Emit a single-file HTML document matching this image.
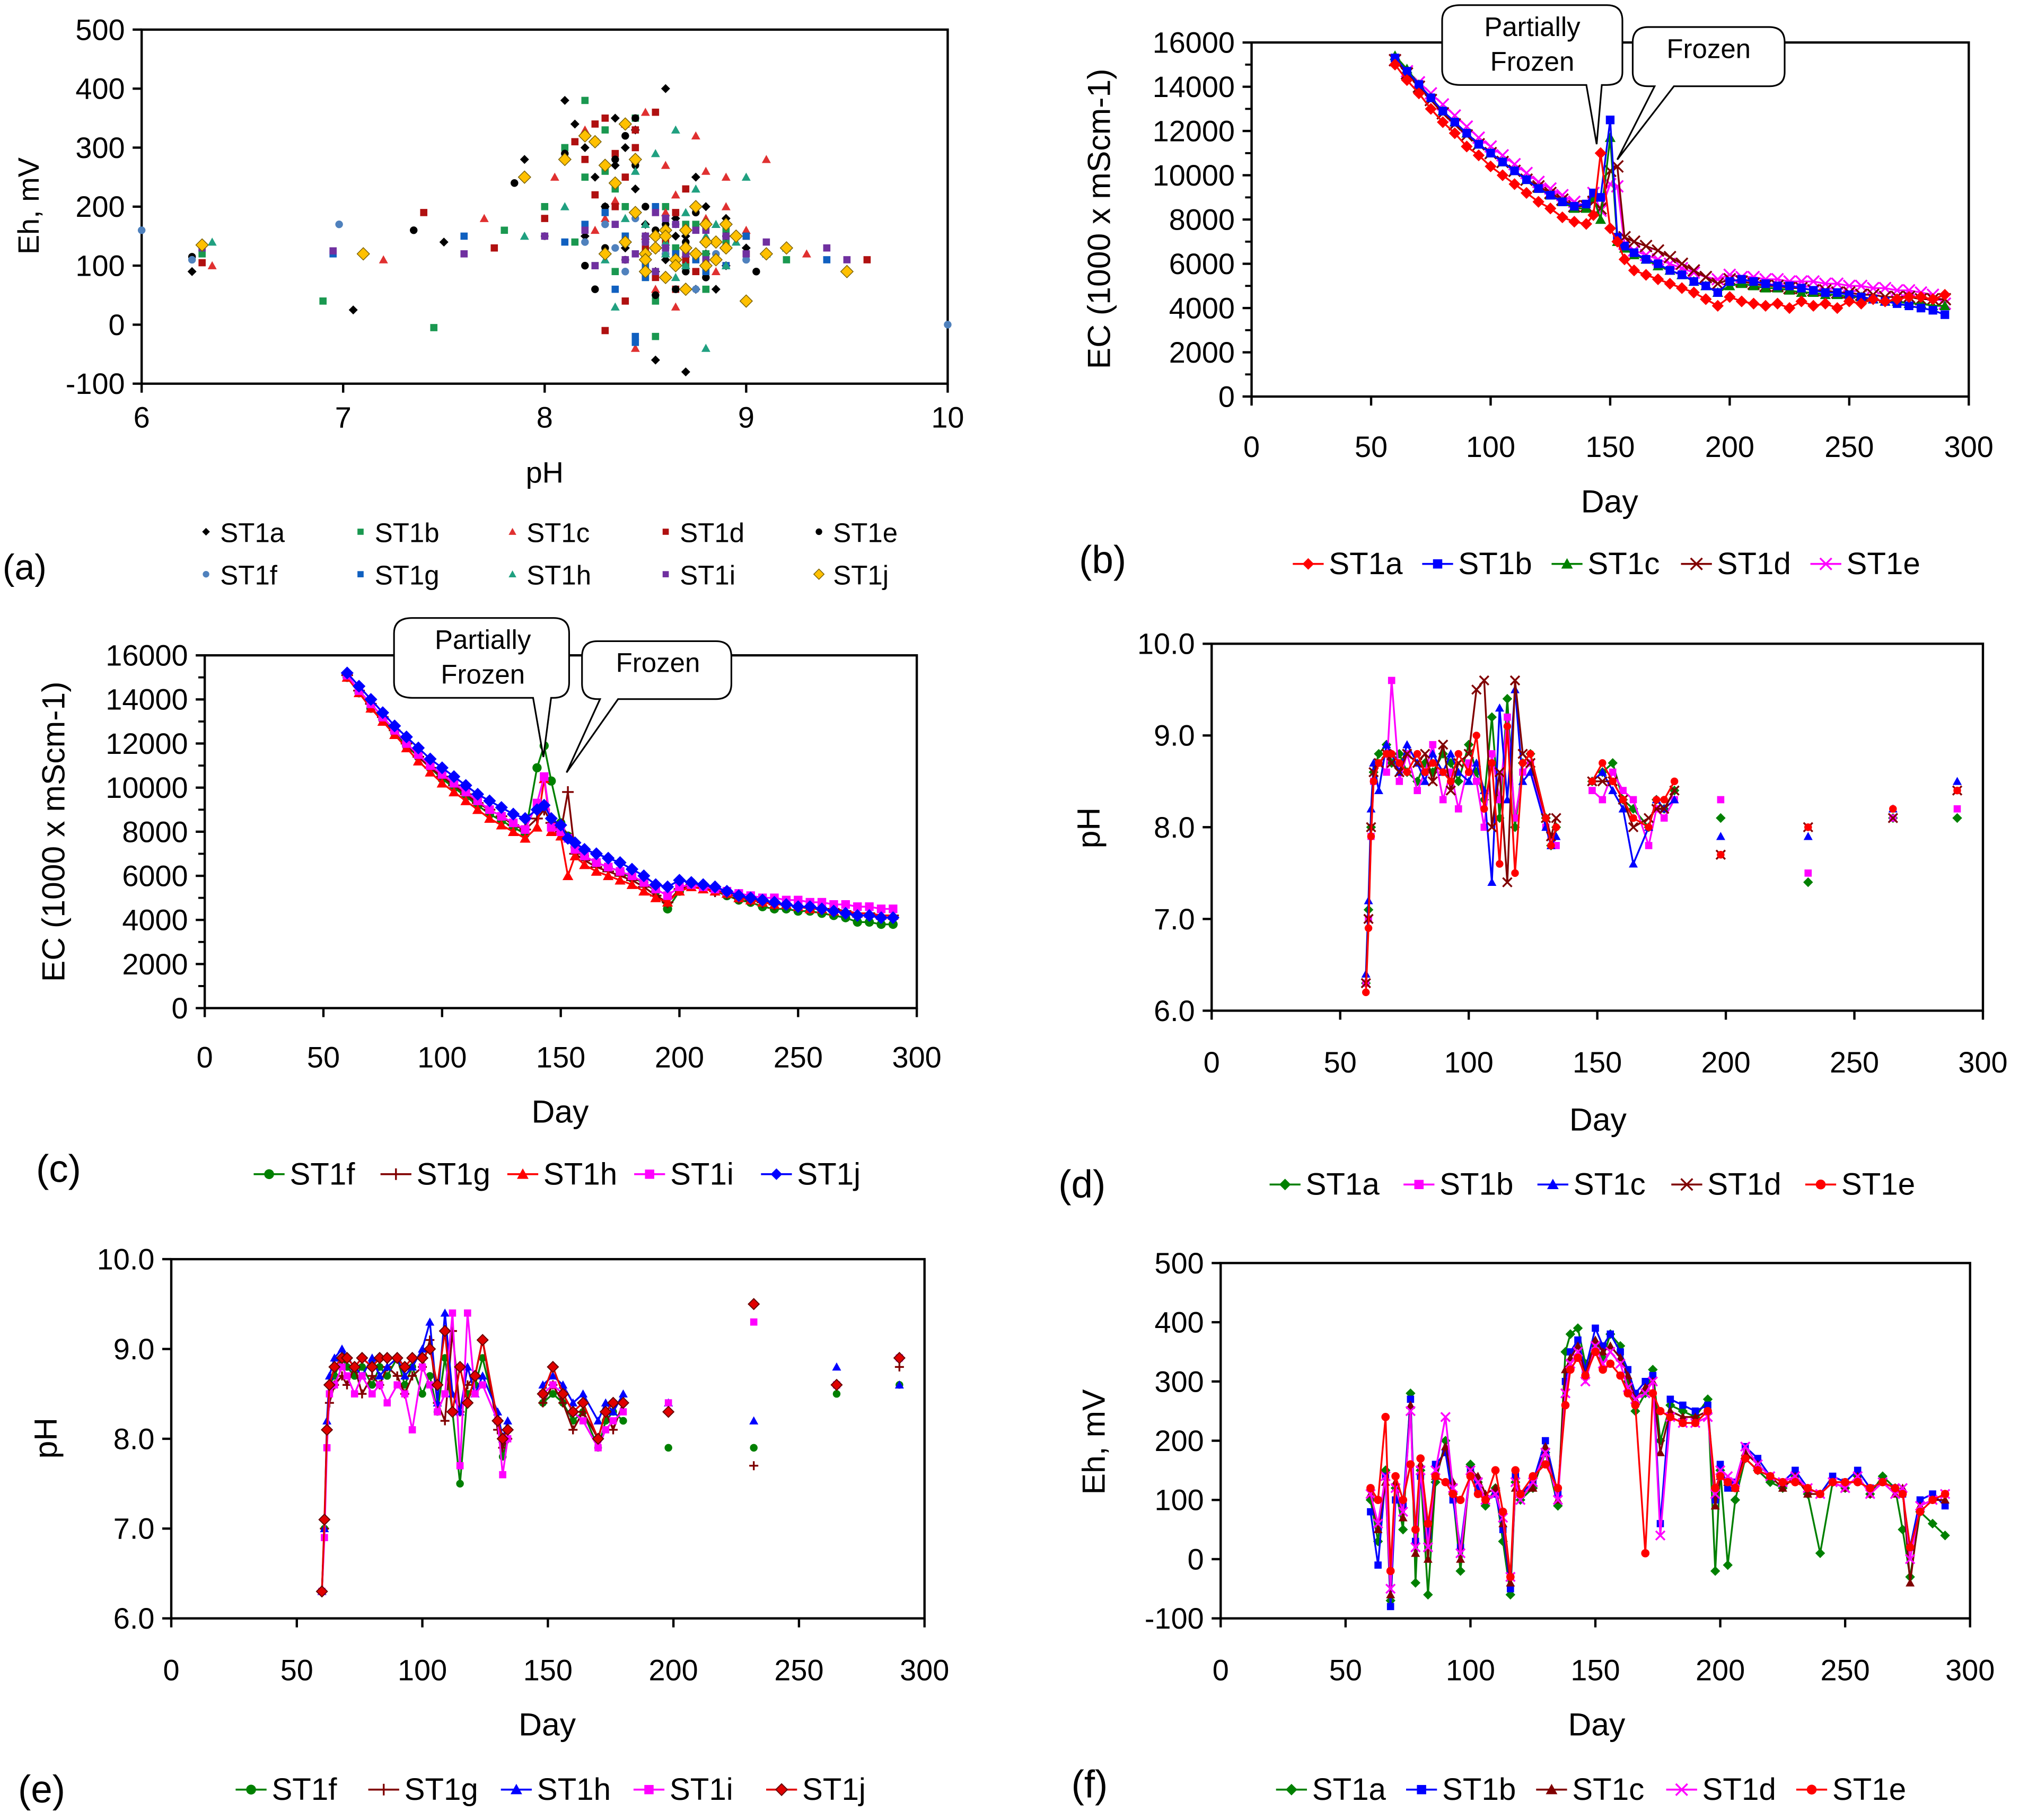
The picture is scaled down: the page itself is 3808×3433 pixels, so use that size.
<!DOCTYPE html>
<html><head><meta charset="utf-8"><style>
html,body{margin:0;padding:0;background:#fff}
svg{display:block}
text{font-family:"Liberation Sans",Arial,sans-serif;fill:#000}
</style></head><body>
<svg id="fig" width="3808" height="3433" viewBox="0 0 1568 1413.6" xmlns="http://www.w3.org/2000/svg">
<rect width="1568" height="1413.6" fill="#fff"/>
</svg>
<script>
// ---------- DATA ----------
const ecDays=[60,65,70,75,80,85,90,95,100,105,110,115,120,125,130,135,140,143,146,150,153,156,160,165,170,175,180,185,190,195,200,205,210,215,220,225,230,235,240,245,250,255,260,265,270,275,280,285,290];
const ecB_ST1a=[15000,14300,13700,13000,12400,11900,11300,10900,10400,10000,9600,9200,8800,8500,8100,7900,7800,8200,11000,7600,7000,6200,5700,5500,5300,5100,4900,4700,4400,4100,4500,4300,4200,4100,4200,4000,4300,4100,4200,4000,4300,4200,4400,4300,4400,4500,4500,4400,4600];
const ecB_ST1b=[15300,14700,14100,13500,12900,12400,11900,11400,11000,10600,10200,9800,9400,9100,8800,8600,8700,9200,9000,12500,7200,6800,6500,6200,6000,5700,5500,5200,5000,4700,5200,5300,5200,5100,5000,5000,4900,4800,4700,4700,4600,4500,4400,4300,4200,4100,4000,3900,3700];
const ecB_ST1c=[15400,14800,14100,13500,12900,12400,11900,11400,11000,10600,10200,9800,9400,9100,8800,8500,8500,9000,8000,11700,7000,6700,6400,6200,5900,5700,5500,5200,5000,4700,5000,5100,5000,4900,4900,4800,4700,4700,4600,4600,4500,4500,4400,4300,4300,4200,4200,4100,4100];
const ecB_ST1d=[15200,14600,14000,13400,12800,12300,11800,11400,11000,10600,10200,9800,9500,9200,8900,8600,8600,8800,8500,10200,10400,7200,7000,6800,6600,6300,6000,5700,5400,5100,5300,5200,5100,5000,5000,4900,4900,4800,4800,4700,4700,4600,4600,4500,4500,4500,4400,4400,4400];
const ecB_ST1e=[15200,14700,14200,13700,13200,12700,12200,11700,11300,10900,10500,10100,9700,9400,9100,8800,8600,9200,8400,9600,9500,6900,6600,6400,6200,6000,5800,5600,5400,5300,5500,5400,5400,5300,5300,5200,5200,5200,5100,5100,5000,5000,4900,4900,4800,4800,4700,4600,4200];
const ecC_ST1f=[15000,14300,13600,13100,12500,11900,11400,10900,10400,10000,9600,9200,8800,8500,8200,7900,10900,11900,10300,8400,7800,7300,6900,6600,6400,6200,5900,5700,5300,4500,5300,5700,5500,5300,5100,4900,4800,4600,4500,4500,4400,4400,4300,4200,4100,3900,3900,3800,3800];
const ecC_ST1g=[15100,14400,13800,13200,12600,12000,11400,10900,10500,10100,9700,9300,9000,8700,8300,8100,8600,9000,8400,8000,9800,7000,6700,6400,6200,6000,5800,5500,5100,4800,5400,5600,5500,5300,5200,5000,4900,4800,4700,4700,4600,4600,4500,4500,4400,4300,4300,4200,4200];
const ecC_ST1h=[15000,14300,13600,13000,12400,11800,11200,10700,10200,9800,9400,9000,8600,8300,8000,7700,8200,10400,8000,7800,6000,6900,6500,6200,6000,5800,5600,5300,5000,4800,5300,5500,5400,5300,5200,5000,4900,4800,4700,4700,4600,4500,4500,4400,4400,4300,4300,4200,4200];
const ecC_ST1i=[15100,14400,13800,13200,12600,12000,11500,11000,10600,10200,9800,9400,9000,8700,8400,8100,9300,10500,8200,8000,7700,7200,6900,6600,6400,6200,6000,5700,5400,5100,5500,5600,5500,5400,5300,5200,5100,5000,5000,4900,4900,4800,4800,4700,4700,4600,4600,4500,4500];
const ecC_ST1j=[15200,14600,14000,13400,12800,12300,11800,11300,10900,10500,10100,9700,9400,9100,8800,8600,9000,9200,8600,8300,7700,7500,7200,7000,6800,6600,6300,6000,5600,5500,5800,5700,5600,5500,5300,5100,5000,4900,4800,4700,4600,4600,4500,4400,4300,4200,4200,4100,4100];

const phDays=[60,61,62,63,65,68,70,73,76,80,83,86,90,93,96,100,103,106,109,112,115,118,121,124,130,132,134,148,152,156,160,164,170,173,176,180,198,232,265,290];
const phD_ST1a=[6.3,7.1,8.0,8.6,8.8,8.9,8.7,8.8,8.6,8.5,8.7,8.6,8.8,8.7,8.5,8.9,8.6,8.3,9.2,8.1,9.4,8.0,8.7,8.8,8.1,7.8,8.0,8.5,8.6,8.7,8.3,8.2,8.0,8.3,8.2,8.4,8.1,7.4,8.1,8.1];
const phD_ST1b=[6.3,7.0,7.9,8.5,8.7,8.6,9.6,8.5,8.8,8.4,8.6,8.9,8.3,8.6,8.2,8.7,8.5,8.0,8.8,8.3,9.2,8.1,8.6,8.7,8.0,7.9,7.8,8.4,8.3,8.6,8.4,8.3,7.8,8.2,8.1,8.3,8.3,7.5,8.1,8.2];
const phD_ST1c=[6.4,7.2,8.2,8.7,8.4,8.9,8.8,8.6,8.9,8.7,8.5,8.8,8.6,8.8,8.6,8.5,8.7,8.4,7.4,9.3,8.3,9.5,8.5,8.6,8.0,7.8,7.9,8.5,8.6,8.4,8.2,7.6,8.0,8.3,8.2,8.3,7.9,7.9,8.2,8.5];
const phD_ST1d=[6.3,7.0,8.0,8.6,8.7,8.8,8.7,8.6,8.8,8.7,8.8,8.5,8.9,8.4,8.7,8.8,9.5,9.6,8.0,8.6,7.4,9.6,8.8,8.7,8.1,7.9,8.1,8.5,8.5,8.5,8.3,8.0,8.1,8.2,8.2,8.4,7.7,8.0,8.1,8.4];
const phD_ST1e=[6.2,6.9,7.9,8.5,8.7,8.8,8.8,8.7,8.6,8.8,8.6,8.7,8.6,8.5,8.8,8.6,9.0,8.2,8.7,7.6,9.1,7.5,8.7,8.8,8.1,7.8,8.0,8.5,8.7,8.5,8.3,8.1,8.0,8.3,8.3,8.5,7.7,8.0,8.2,8.4];
const phE_ST1f=[6.3,7.0,8.1,8.6,8.7,8.9,8.8,8.7,8.8,8.6,8.8,8.7,8.9,8.6,8.8,8.5,8.7,8.3,8.9,8.3,7.5,8.5,8.6,8.9,8.2,7.8,8.0,8.4,8.5,8.4,8.2,8.3,7.9,8.2,8.3,8.2,7.9,7.9,8.5,8.6];
const phE_ST1g=[6.3,7.0,8.1,8.4,8.6,8.7,8.6,8.8,8.5,8.7,8.6,8.8,8.7,8.5,8.7,8.8,9.1,8.4,8.2,9.2,8.3,8.6,8.7,9.1,8.1,7.9,8.0,8.4,8.6,8.4,8.1,8.3,8.0,8.3,8.1,8.4,8.3,7.7,8.6,8.8];
const phE_ST1h=[6.3,7.0,8.2,8.7,8.9,9.0,8.9,8.8,8.7,8.9,8.7,8.8,8.9,8.7,8.8,9.0,9.3,8.4,9.4,8.5,8.3,8.8,8.5,8.7,8.3,8.0,8.2,8.6,8.7,8.6,8.4,8.5,8.2,8.4,8.3,8.5,8.4,8.2,8.8,8.6];
const phE_ST1i=[6.3,6.9,7.9,8.5,8.6,8.8,8.7,8.5,8.7,8.5,8.6,8.4,8.6,8.5,8.1,8.8,8.6,8.3,8.5,9.4,7.7,9.4,8.5,8.6,8.2,7.6,8.0,8.5,8.6,8.5,8.3,8.2,7.9,8.1,8.2,8.3,8.4,9.3,8.6,8.9];
const phE_ST1j=[6.3,7.1,8.1,8.6,8.8,8.9,8.9,8.8,8.9,8.8,8.9,8.9,8.9,8.8,8.9,8.9,9.0,8.6,9.2,8.3,8.8,8.4,8.7,9.1,8.2,8.0,8.1,8.5,8.8,8.5,8.3,8.4,8.0,8.3,8.4,8.4,8.3,9.5,8.6,8.9];

const ehDays=[60,63,66,68,70,73,76,78,80,83,86,90,93,96,100,103,106,110,113,116,118,120,125,130,135,138,140,143,146,150,153,156,160,163,166,170,173,176,180,185,190,195,198,200,203,206,210,215,220,225,230,235,240,245,250,255,260,265,270,273,276,280,285,290];
const ehF_ST1a=[100,30,150,-70,120,50,280,-40,150,-60,130,200,110,-20,160,130,90,120,30,-60,130,100,120,180,90,350,380,390,330,360,340,380,360,300,250,280,320,200,260,250,240,270,-20,150,-10,100,170,150,130,120,140,110,10,130,120,140,110,140,120,50,-30,80,60,40,140];
const ehF_ST1b=[80,-10,140,-80,100,90,270,30,140,40,160,180,100,20,150,120,100,110,50,-50,140,110,130,200,110,300,350,370,320,390,360,380,350,320,280,300,310,60,270,260,250,260,100,160,120,130,190,170,140,130,150,120,110,140,130,150,120,130,120,110,20,100,110,90,180];
const ehF_ST1c=[110,50,130,-60,130,70,260,10,160,0,140,190,130,0,150,140,110,120,60,-40,120,110,120,190,100,320,340,360,310,370,350,360,340,310,270,290,300,180,250,240,240,250,90,140,130,120,180,160,140,120,140,110,110,130,120,140,110,130,110,120,-40,90,100,100,150];
const ehF_ST1d=[110,60,140,-50,120,80,250,20,150,20,150,240,120,10,150,130,100,110,70,-30,130,100,130,180,100,280,330,350,300,360,330,350,330,290,270,280,300,40,240,230,230,240,110,150,140,130,190,160,140,130,140,120,110,130,120,140,110,130,110,120,0,90,100,110,130];
const ehF_ST1e=[120,100,240,-20,140,100,160,50,170,60,140,130,110,100,140,110,100,150,80,-30,150,110,140,160,120,260,320,340,310,350,320,330,310,280,260,10,280,250,240,230,230,250,120,140,130,120,170,150,140,130,130,120,110,130,130,130,120,130,120,110,20,80,100,110,120];

const scA_ST1a_pH=[6.25,7.05,7.5,7.9,8.1,8.2,8.3,8.35,8.4,8.5,8.55,8.6,8.65,8.7,8.75,8.8,8.85,8.9,9.0,8.45,8.15,8.25,8.4,8.5,8.6,8.7,8.8,8.3,8.45,8.55,8.65,8.75,8.2,8.35,8.9];
const scA_ST1a_Eh=[90,25,140,280,380,300,200,350,130,90,-60,400,150,-80,250,120,60,180,130,330,340,250,300,170,110,150,200,120,230,90,180,60,150,270,100];
const scA_ST1b_pH=[6.3,6.9,7.45,7.8,8.0,8.1,8.2,8.25,8.3,8.4,8.45,8.5,8.55,8.6,8.65,8.7,8.8,8.9,9.2,8.35,8.2,8.3,8.4,8.5,8.6,8.7,8.75,8.45,8.55,8.65,8.35,8.25,8.8,8.9,8.15];
const scA_ST1b_Eh=[120,40,-5,160,200,300,380,100,260,150,350,80,-20,200,120,170,60,140,110,230,250,330,200,120,150,100,170,280,40,130,90,310,120,160,140];
const scA_ST1c_pH=[6.35,7.2,7.7,8.05,8.2,8.3,8.4,8.5,8.55,8.6,8.7,8.75,8.8,8.85,8.9,9.0,9.1,9.3,8.45,8.65,8.35,8.5,8.6,8.7,8.45,8.8,8.25,8.55,8.65,8.9];
const scA_ST1c_Eh=[100,110,180,250,330,180,340,150,60,270,120,320,180,90,250,160,280,120,-40,30,210,360,190,100,280,260,160,130,220,200];
const scA_ST1d_pH=[6.3,7.4,7.75,8.0,8.15,8.25,8.35,8.45,8.5,8.55,8.6,8.7,8.75,8.8,8.9,9.0,9.6,8.4,8.65,8.3,8.2,8.3,8.4,8.5,8.6,8.65,8.7,8.8,8.45,8.55,8.35,8.25,8.75,8.9,9.0];
const scA_ST1d_Eh=[105,190,130,180,310,220,290,330,110,360,140,230,90,170,130,120,110,40,60,-10,280,350,250,130,160,190,110,140,300,80,200,340,120,100,150];
const scA_ST1e_pH=[6.25,7.35,7.85,8.0,8.1,8.2,8.3,8.4,8.5,8.6,8.65,8.7,8.8,8.9,9.05,9.2,8.45,8.55,8.75,8.25,8.3,8.5,8.6,8.7,8.4,8.8,8.55,8.65,8.45,8.35];
const scA_ST1e_Eh=[115,160,240,150,290,100,130,320,200,170,110,140,80,150,90,130,270,50,190,60,200,150,120,90,110,140,160,60,350,280];
const scA_ST1f_pH=[6.0,6.25,6.98,8.3,8.5,8.6,8.7,8.8,8.9,9.0,8.4,8.55,8.65,8.75,8.2,8.45,8.35,8.85,8.6,10.0];
const scA_ST1f_Eh=[160,110,170,170,140,120,160,100,130,110,90,150,170,60,140,180,130,120,130,0];
const scA_ST1g_pH=[6.3,6.95,7.6,8.1,8.2,8.3,8.4,8.5,8.55,8.6,8.65,8.7,8.75,8.8,8.9,9.0,9.4,8.45,8.35,8.25,8.4,8.5,8.6,8.7,8.8,8.45,8.55,8.65];
const scA_ST1g_Eh=[130,120,150,140,170,190,150,100,130,180,120,160,110,140,100,150,110,-20,60,310,140,80,160,120,90,-30,200,100];
const scA_ST1h_pH=[6.35,7.9,8.1,8.3,8.4,8.5,8.6,8.7,8.8,8.9,9.0,9.2,8.45,8.55,8.65,8.75,8.85,8.95,9.1,8.35,8.5,8.6,8.7,8.8,8.4,8.65];
const scA_ST1h_Eh=[140,150,200,110,140,170,120,190,150,100,250,130,260,290,80,230,170,140,120,30,120,140,100,-40,180,330];
const scA_ST1i_pH=[6.3,6.95,7.6,8.0,8.2,8.35,8.45,8.5,8.6,8.7,8.75,8.8,8.9,9.0,9.1,9.4,9.5,8.55,8.65,8.25,8.4,8.5,8.6,8.7,8.8,8.55];
const scA_ST1i_Eh=[130,125,120,150,160,170,120,140,180,130,160,110,150,120,140,130,110,90,170,100,110,150,130,120,160,190];
const scA_ST1j_pH=[6.3,7.1,7.9,8.1,8.2,8.3,8.4,8.5,8.55,8.6,8.65,8.7,8.75,8.8,8.85,8.9,9.0,9.2,9.5,8.45,8.3,8.4,8.5,8.55,8.6,8.65,8.7,8.75,8.8,8.85,8.9,8.95,8.45,8.35,8.6,8.7,8.8,8.5,8.25,9.1];
const scA_ST1j_Eh=[135,120,250,280,320,270,340,120,150,160,110,130,200,100,140,170,40,130,90,280,120,140,110,130,150,100,160,120,140,110,130,150,190,240,80,60,170,90,310,120];

const ticksA_x=[6,7,8,9,10], ticksA_y=[-100,0,100,200,300,400,500];
const ticksEC_y=[0,2000,4000,6000,8000,10000,12000,14000,16000];
const ticksDay=[0,50,100,150,200,250,300];
const ticksPH=[6,7,8,9,10];
const ticksEh=[-100,0,100,200,300,400,500];

// ---------- HELPERS ----------
const NS="http://www.w3.org/2000/svg";
const svg=document.getElementById('fig');
function el(tag,attrs,parent){const e=document.createElementNS(NS,tag);for(const k in attrs)e.setAttribute(k,attrs[k]);(parent||svg).appendChild(e);return e;}
function lin(d0,d1,p0,p1){return v=>p0+(v-d0)*(p1-p0)/(d1-d0);}
function marker(g,type,x,y,s,col){
  let m;
  if(type==='diamond')m=el('polygon',{points:`${x},${y-s} ${x+s},${y} ${x},${y+s} ${x-s},${y}`,fill:col},g);
  else if(type==='diamondB')m=el('polygon',{points:`${x},${y-s} ${x+s},${y} ${x},${y+s} ${x-s},${y}`,fill:col,stroke:'#600',"stroke-width":0.8},g);
  else if(type==='square')m=el('rect',{x:x-s*0.8,y:y-s*0.8,width:s*1.6,height:s*1.6,fill:col},g);
  else if(type==='triangle')m=el('polygon',{points:`${x},${y-s} ${x+s},${y+s*0.8} ${x-s},${y+s*0.8}`,fill:col},g);
  else if(type==='circle')m=el('circle',{cx:x,cy:y,r:s*0.85,fill:col},g);
  else if(type==='x')m=el('path',{d:`M${x-s},${y-s}L${x+s},${y+s}M${x-s},${y+s}L${x+s},${y-s}`,stroke:col,"stroke-width":1.4},g);
  else if(type==='plus')m=el('path',{d:`M${x-s},${y}L${x+s},${y}M${x},${y-s}L${x},${y+s}`,stroke:col,"stroke-width":1.4},g);
  else if(type==='diamondG')m=el('polygon',{points:`${x},${y-s} ${x+s},${y} ${x},${y+s} ${x-s},${y}`,fill:col,stroke:'#7a6000',"stroke-width":0.6},g);
  
  
  return m;
}
function text(t,x,y,size,anchor,parent,rot){
  const e=el('text',{x:x,y:y,"font-size":size,"text-anchor":anchor||'middle'},parent);
  if(rot)e.setAttribute('transform',`rotate(-90 ${x} ${y})`);
  e.textContent=t;return e;
}
function axes(name,x0,x1,y0,y1,xs,ys,xt,yt,fmtY,minorY,xLabY){
  const g=el('g',{});
  
  
  const fr=el('rect',{x:x0,y:y0,width:x1-x0,height:y1-y0,fill:'none',stroke:'#000',"stroke-width":1.8},g);
  
  
  xt.forEach(v=>{const X=xs(v);el('line',{x1:X,y1:y1,x2:X,y2:y1+7,stroke:'#000',"stroke-width":1.8},g);
    const t=text(String(v),X,xLabY,23,'middle',g);
    
    });
  yt.forEach(v=>{const Y=ys(v);el('line',{x1:x0-7,y1:Y,x2:x0,y2:Y,stroke:'#000',"stroke-width":1.8},g);
    const t=text(fmtY(v),x0-13,Y+8,23,'end',g);
    
    });
  if(minorY)minorY.forEach(v=>{const Y=ys(v);el('line',{x1:x0-5,y1:Y,x2:x0,y2:Y,stroke:'#000',"stroke-width":1.6},g);});
  return g;
}
function series(name,days,vals,xs,ys,col,type,s,gapMax){
  const g=el('g',{});
  
  
  let d='';let prev=null;
  days.forEach((dd,i)=>{const X=xs(dd),Y=ys(vals[i]);
    if(prev===null||dd-prev>gapMax)d+=`M${X},${Y}`;else d+=`L${X},${Y}`;prev=dd;});
  const p=el('path',{d:d,fill:'none',stroke:col,"stroke-width":1.4},g);
  
  
  days.forEach((dd,i)=>marker(g,type,xs(dd),ys(vals[i]),s,col));
}
function legendLine(name,items,x,y,spacing){
  const g=el('g',{});
  
  
  items.forEach((it,i)=>{
    const X=x+i*spacing;
    const e=el('g',{},g);
    
    
    el('line',{x1:X,y1:y-8,x2:X+24,y2:y-8,stroke:it[1],"stroke-width":1.5},e);
    marker(e,it[2],X+12,y-8,4.5,it[1]);
    text(it[0],X+28,y,24,'start',e);
  });
}
const GREEN='#008000',BLUE='#0000ff',RED='#ff0000',MAG='#ff00ff',BROWN='#800000';

// ---------- PANEL A ----------
{
  const xs=lin(6,10,110,736), ys=lin(-100,500,298,23);
  axes('panel-a',110,736,23,298,xs,ys,ticksA_x,ticksA_y,v=>String(v),null,332);
  const defs=[['ST1a',scA_ST1a_pH,scA_ST1a_Eh,'#000','diamond'],['ST1b',scA_ST1b_pH,scA_ST1b_Eh,'#1a9850','square'],
   ['ST1c',scA_ST1c_pH,scA_ST1c_Eh,'#e03030','triangle'],['ST1d',scA_ST1d_pH,scA_ST1d_Eh,'#b01010','square'],
   ['ST1e',scA_ST1e_pH,scA_ST1e_Eh,'#000','circle'],['ST1f',scA_ST1f_pH,scA_ST1f_Eh,'#4f81bd','circle'],
   ['ST1g',scA_ST1g_pH,scA_ST1g_Eh,'#1060c0','square'],['ST1h',scA_ST1h_pH,scA_ST1h_Eh,'#20a080','triangle'],
   ['ST1i',scA_ST1i_pH,scA_ST1i_Eh,'#7030a0','square'],['ST1j',scA_ST1j_pH,scA_ST1j_Eh,'#ffc000','diamondG']];
  defs.forEach(dd=>{const g=el('g',{});
    
    
    dd[1].forEach((p,i)=>marker(g,dd[4],xs(p),ys(dd[2][i]),dd[4]==='diamondG'?4.8:3.5,dd[3]));});
  const lg=el('g',{});
  
  
  const cols=[160,280,398,517,636];
  defs.forEach((dd,i)=>{const X=cols[i%5],Y=i<5?421:454;
    const e=el('g',{},lg);
    
    
    marker(e,dd[4],X,Y-8,dd[4]==='diamondG'?4:3,dd[3]);text(dd[0],X+11,Y,21,'start',e);});
  const t1=text('Eh, mV',30,160,23,'middle',null,true);
  const t2=text('pH',423,375,23);
  const t3=text('(a)',2,450,28,'start');
}
// ---------- PANEL B ----------
{
  const xs=lin(0,300,972,1529), ys=lin(0,16000,308,33);
  axes('panel-b',972,1529,33,308,xs,ys,ticksDay,ticksEC_y,v=>String(v),[1000,3000,5000,7000,9000,11000,13000,15000],355);
  series('series-b-ST1e',ecDays,ecB_ST1e,xs,ys,MAG,'x',4.5,99);
  series('series-b-ST1d',ecDays,ecB_ST1d,xs,ys,BROWN,'x',4.5,99);
  series('series-b-ST1c',ecDays,ecB_ST1c,xs,ys,GREEN,'triangle',4.2,99);
  series('series-b-ST1b',ecDays,ecB_ST1b,xs,ys,BLUE,'square',4.2,99);
  series('series-b-ST1a',ecDays,ecB_ST1a,xs,ys,RED,'diamond',4.6,99);
  legendLine('panel-b-legend',[['ST1a',RED,'diamond'],['ST1b',BLUE,'square'],['ST1c',GREEN,'triangle'],['ST1d',BROWN,'x'],['ST1e',MAG,'x']],1004,446,100.5);
  const t1=text('EC (1000 x mScm-1)',862,170,25,'middle',null,true);
  const t2=text('Day',1250,398,25);
  const t3=text('(b)',838,445,30,'start');
  const c1=el('path',{d:'M1134,4 H1248 Q1260,4 1260,16 V56 Q1260,66 1248,66 H1244 L1240,112 L1232,66 H1134 Q1120,66 1120,54 V16 Q1120,4 1134,4 Z',fill:'#fff',stroke:'#000',"stroke-width":1.3});
  
  text('Partially',1190,28,21);text('Frozen',1190,55,21);
  const c2=el('path',{d:'M1280,21 H1374 Q1386,21 1386,33 V56 Q1386,67 1374,67 H1300 L1256,124 L1285,67 H1280 Q1268,67 1268,56 V33 Q1268,21 1280,21 Z',fill:'#fff',stroke:'#000',"stroke-width":1.3});
  
  text('Frozen',1327,45,21);
}
// ---------- PANEL C ----------
{
  const xs=lin(0,300,159,712), ys=lin(0,16000,783,509);
  axes('panel-c',159,712,509,783,xs,ys,ticksDay,ticksEC_y,v=>String(v),[1000,3000,5000,7000,9000,11000,13000,15000],829);
  series('series-c-ST1f',ecDays,ecC_ST1f,xs,ys,GREEN,'circle',4.2,99);
  series('series-c-ST1g',ecDays,ecC_ST1g,xs,ys,BROWN,'plus',4.5,99);
  series('series-c-ST1h',ecDays,ecC_ST1h,xs,ys,RED,'triangle',4.2,99);
  series('series-c-ST1i',ecDays,ecC_ST1i,xs,ys,MAG,'square',4.2,99);
  series('series-c-ST1j',ecDays,ecC_ST1j,xs,ys,BLUE,'diamond',5,99);
  legendLine('panel-c-legend',[['ST1f',GREEN,'circle'],['ST1g',BROWN,'plus'],['ST1h',RED,'triangle'],['ST1i',MAG,'square'],['ST1j',BLUE,'diamond']],197,920,98.5);
  const t1=text('EC (1000 x mScm-1)',50,646,25,'middle',null,true);
  const t2=text('Day',435,872,25);
  const t3=text('(c)',28,918,30,'start');
  const c1=el('path',{d:'M320,480 H430 Q442,480 442,492 V530 Q442,542 430,542 H428 L422,588 L414,542 H320 Q306,542 306,530 V492 Q306,480 320,480 Z',fill:'#fff',stroke:'#000',"stroke-width":1.3});
  
  text('Partially',375,504,21);text('Frozen',375,531,21);
  const c2=el('path',{d:'M464,498 H556 Q568,498 568,510 V531 Q568,543 556,543 H480 L440,600 L466,543 H464 Q452,543 452,531 V510 Q452,498 464,498 Z',fill:'#fff',stroke:'#000',"stroke-width":1.3});
  
  text('Frozen',511,522,21);
}
// ---------- PANEL D ----------
{
  const xs=lin(0,300,941,1540), ys=lin(6,10,785,500);
  axes('panel-d',941,1540,500,785,xs,ys,ticksDay,ticksPH,v=>v.toFixed(1),null,833);
  series('series-d-ST1a',phDays,phD_ST1a,xs,ys,GREEN,'diamond',3.8,12);
  series('series-d-ST1b',phDays,phD_ST1b,xs,ys,MAG,'square',3.5,12);
  series('series-d-ST1c',phDays,phD_ST1c,xs,ys,BLUE,'triangle',3.5,12);
  series('series-d-ST1d',phDays,phD_ST1d,xs,ys,BROWN,'x',3.5,12);
  series('series-d-ST1e',phDays,phD_ST1e,xs,ys,RED,'circle',3.5,12);
  legendLine('panel-d-legend',[['ST1a',GREEN,'diamond'],['ST1b',MAG,'square'],['ST1c',BLUE,'triangle'],['ST1d',BROWN,'x'],['ST1e',RED,'circle']],986,928,104);
  const t1=text('pH',854,643,25,'middle',null,true);
  const t2=text('Day',1241,878,25);
  const t3=text('(d)',822,930,30,'start');
}
// ---------- PANEL E ----------
{
  const xs=lin(0,300,133,718), ys=lin(6,10,1257,978);
  axes('panel-e',133,718,978,1257,xs,ys,ticksDay,ticksPH,v=>v.toFixed(1),null,1305);
  series('series-e-ST1f',phDays,phE_ST1f,xs,ys,GREEN,'circle',3.5,12);
  series('series-e-ST1g',phDays,phE_ST1g,xs,ys,BROWN,'plus',3.5,12);
  series('series-e-ST1h',phDays,phE_ST1h,xs,ys,BLUE,'triangle',3.5,12);
  series('series-e-ST1i',phDays,phE_ST1i,xs,ys,MAG,'square',3.5,12);
  series('series-e-ST1j',phDays,phE_ST1j,xs,ys,'#e00000','diamondB',4.2,12);
  legendLine('panel-e-legend',[['ST1f',GREEN,'circle'],['ST1g',BROWN,'plus'],['ST1h',BLUE,'triangle'],['ST1i',MAG,'square'],['ST1j','#e00000','diamondB']],183,1398,103);
  const t1=text('pH',44,1117,25,'middle',null,true);
  const t2=text('Day',425,1348,25);
  const t3=text('(e)',14,1400,30,'start');
}
// ---------- PANEL F ----------
{
  const xs=lin(0,300,948,1530), ys=lin(-100,500,1257,981);
  axes('panel-f',948,1530,981,1257,xs,ys,ticksDay,ticksEh,v=>String(v),null,1305);
  series('series-f-ST1a',ehDays,ehF_ST1a,xs,ys,GREEN,'diamond',3.8,99);
  series('series-f-ST1b',ehDays,ehF_ST1b,xs,ys,BLUE,'square',3.5,99);
  series('series-f-ST1c',ehDays,ehF_ST1c,xs,ys,BROWN,'triangle',3.5,99);
  series('series-f-ST1d',ehDays,ehF_ST1d,xs,ys,MAG,'x',3.5,99);
  series('series-f-ST1e',ehDays,ehF_ST1e,xs,ys,RED,'circle',3.8,99);
  legendLine('panel-f-legend',[['ST1a',GREEN,'diamond'],['ST1b',BLUE,'square'],['ST1c',BROWN,'triangle'],['ST1d',MAG,'x'],['ST1e',RED,'circle']],991,1398,101);
  const t1=text('Eh, mV',858,1120,25,'middle',null,true);
  const t2=text('Day',1240,1348,25);
  const t3=text('(f)',832,1396,30,'start');
}
</script>
</body></html>
